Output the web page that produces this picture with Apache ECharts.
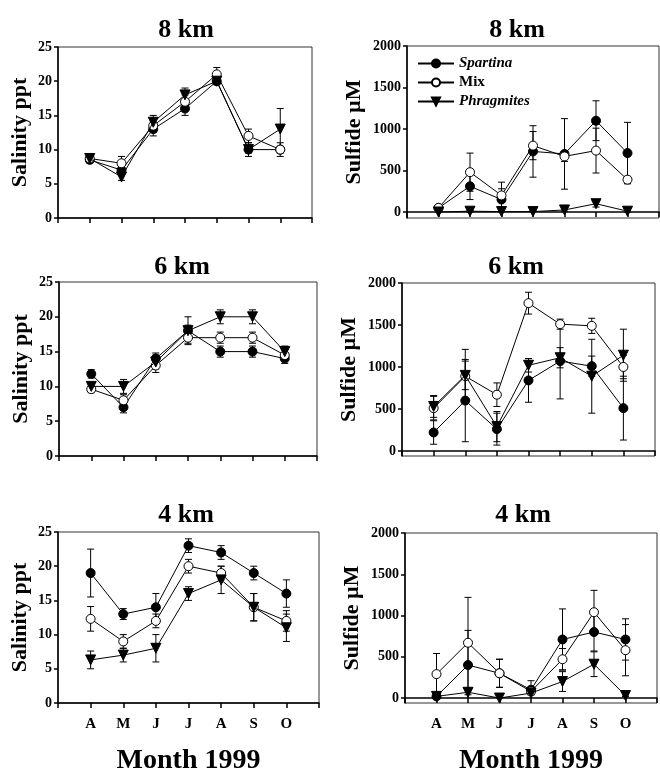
<!DOCTYPE html>
<html>
<head>
<meta charset="utf-8">
<script src="https://cdn.jsdelivr.net/npm/echarts@6/dist/echarts.min.js"></script>
<style>
  html, body { margin: 0; padding: 0; background: #fff; }
  #chart { width: 660px; height: 776px; }
</style>
</head>
<body>
<div id="chart"></div>
<script>
// month labels, x positions 1..7
var months = ["A", "M", "J", "J", "A", "S", "O"];
var speciesNames = ["Spartina", "Mix", "Phragmites"];

// 8 km salinity (ppt), mean and error
var sal8Sp = [8.5, 7, 13, 16, 20, 10, 10];
var sal8Mx = [8.7, 8, 13.5, 17, 21, 12, 10];
var sal8Ph = [8.7, 6, 14, 18, 20, 10, 13];
var sal8SpErr = [0.5, 0.5, 1, 1, 0.5, 1, 0.5];
var sal8MxErr = [0.4, 1, 1, 1, 1, 1, 1];
var sal8PhErr = [0.4, 0.5, 1, 1, 0.5, 0.5, 3];

// 8 km sulfide (uM)
var sul8Sp = [50, 310, 150, 730, 700, 1100, 710];
var sul8Mx = [50, 480, 200, 800, 670, 740, 390];
var sul8Ph = [0, 10, 5, 5, 25, 100, 10];
var sul8SpErr = [20, 160, 130, 310, 425, 240, 370];
var sul8MxErr = [20, 230, 160, 170, 60, 270, 40];
var sul8PhErr = [5, 10, 10, 10, 15, 40, 10];

// 6 km salinity
var sal6Sp = [11.8, 7, 14, 18, 15, 15, 14];
var sal6Mx = [9.6, 8, 13, 17, 17, 17, 14.5];
var sal6Ph = [10, 10, 13.5, 18, 20, 20, 15];
var sal6SpErr = [0.6, 0.8, 0.8, 0.8, 0.8, 0.8, 0.7];
var sal6MxErr = [0.5, 0.8, 1, 0.8, 0.8, 0.8, 0.8];
var sal6PhErr = [0.5, 1, 1, 2, 1, 1, 0.8];

// 6 km sulfide
var sul6Sp = [220, 600, 260, 840, 1070, 1010, 510];
var sul6Mx = [510, 890, 670, 1760, 1510, 1490, 1000];
var sul6Ph = [530, 900, 290, 1020, 1110, 890, 1140];
var sul6SpErr = [140, 490, 190, 260, 450, 120, 380];
var sul6MxErr = [140, 320, 140, 130, 60, 90, 140];
var sul6PhErr = [130, 170, 180, 80, 120, 440, 310];

// 4 km salinity
var sal4Sp = [19, 13, 14, 23, 22, 19, 16];
var sal4Mx = [12.3, 9, 12, 20, 19, 14, 12];
var sal4Ph = [6.3, 7, 8, 16, 18, 14, 11];
var sal4SpErr = [3.5, 0.8, 2, 1, 1, 1, 2];
var sal4MxErr = [1.8, 1, 1, 1, 1, 2, 1.5];
var sal4PhErr = [1.3, 1, 2, 1, 2, 2, 2];

// 4 km sulfide
var sul4Sp = [20, 400, 300, 100, 710, 800, 710];
var sul4Mx = [290, 670, 300, 80, 470, 1040, 580];
var sul4Ph = [20, 70, 0, 60, 200, 410, 30];
var sul4SpErr = [20, 420, 170, 110, 370, 230, 250];
var sul4MxErr = [250, 550, 170, 40, 130, 265, 310];
var sul4PhErr = [10, 30, 5, 20, 120, 150, 10];

var salTicks = [0, 5, 10, 15, 20, 25];
var sulTicks = [0, 500, 1000, 1500, 2000];

var FONT = "Liberation Serif";

var panels = [
  { title: "8 km", tx: 181, ty: 12, grid: { left: 58, top: 47, width: 254, height: 171 }, kind: "sal", yMin: 0, bottom: false,
    mean: [sal8Sp, sal8Mx, sal8Ph], err: [sal8SpErr, sal8MxErr, sal8PhErr] },
  { title: "8 km", tx: 512, ty: 12, grid: { left: 407, top: 46, width: 252, height: 172 }, kind: "sul", yMin: -72, bottom: false,
    mean: [sul8Sp, sul8Mx, sul8Ph], err: [sul8SpErr, sul8MxErr, sul8PhErr] },
  { title: "6 km", tx: 177, ty: 249, grid: { left: 59, top: 282, width: 258, height: 174 }, kind: "sal", yMin: 0, bottom: false,
    mean: [sal6Sp, sal6Mx, sal6Ph], err: [sal6SpErr, sal6MxErr, sal6PhErr] },
  { title: "6 km", tx: 511, ty: 249, grid: { left: 402, top: 283, width: 253, height: 173 }, kind: "sul", yMin: -60, bottom: false,
    mean: [sul6Sp, sul6Mx, sul6Ph], err: [sul6SpErr, sul6MxErr, sul6PhErr] },
  { title: "4 km", tx: 181, ty: 497, grid: { left: 58, top: 532, width: 261, height: 176 }, kind: "sal", yMin: 0, bottom: true,
    mean: [sal4Sp, sal4Mx, sal4Ph], err: [sal4SpErr, sal4MxErr, sal4PhErr] },
  { title: "4 km", tx: 518, ty: 497, grid: { left: 405, top: 533, width: 254, height: 175 }, kind: "sul", yMin: -60, bottom: true,
    mean: [sul4Sp, sul4Mx, sul4Ph], err: [sul4SpErr, sul4MxErr, sul4PhErr] }
];

var symbols = ["circle", "circle", "triangle"];
var fills = ["#000", "#fff", "#000"];
var sizes = [9, 9, 10];

var chart = echarts.init(document.getElementById("chart"));

var titles = [], grids = [], xAxes = [], yAxes = [], series = [];

panels.forEach(function (p, gi) {
  titles.push({
    text: p.title, left: p.tx, top: p.ty, textAlign: "center",
    textStyle: { fontFamily: FONT, fontWeight: "bold", fontSize: 26, color: "#000" }
  });
  grids.push({
    left: p.grid.left, top: p.grid.top, width: p.grid.width, height: p.grid.height,
    show: true, borderColor: "#333", borderWidth: 1, backgroundColor: "transparent"
  });
  xAxes.push({
    gridIndex: gi, type: "value", min: 0, max: 8, interval: 1,
    axisLine: { lineStyle: { color: "#000", width: 1.5 } },
    axisTick: { show: true, length: 5, lineStyle: { color: "#000", width: 1.5 } },
    splitLine: { show: false },
    axisLabel: {
      show: p.bottom, margin: 14, fontFamily: FONT, fontWeight: "bold", fontSize: 15, color: "#000",
      formatter: function (v) { return months[v - 1] || ""; }
    },
    name: p.bottom ? "Month 1999" : "", nameLocation: "middle", nameGap: 44,
    nameTextStyle: { fontFamily: FONT, fontWeight: "bold", fontSize: 28, color: "#000" }
  });
  var isSal = p.kind === "sal";
  var ticks = isSal ? salTicks : sulTicks;
  yAxes.push({
    gridIndex: gi, type: "value", min: p.yMin, max: ticks[ticks.length - 1],
    axisLine: { show: true, lineStyle: { color: "#000", width: 1.5 } },
    axisTick: { show: true, length: 4, customValues: ticks, lineStyle: { color: "#000", width: 1.5 } },
    splitLine: { show: false },
    axisLabel: {
      customValues: ticks, margin: 6, fontFamily: FONT, fontWeight: "bold", fontSize: 14, color: "#000",
      formatter: function (v) { return String(v); }
    },
    name: isSal ? "Salinity ppt" : "Sulfide \u00b5M", nameLocation: "middle", nameGap: isSal ? 27 : 42,
    nameTextStyle: { fontFamily: FONT, fontWeight: "bold", fontSize: 22, color: "#000" }
  });

  // error bars first so markers sit on top
  p.mean.forEach(function (m, si) {
    var e = p.err[si];
    series.push({
      type: "custom", xAxisIndex: gi, yAxisIndex: gi, silent: true, z: 1,
      data: m.map(function (v, k) { return [k + 1, Math.max(0, v - e[k]), v + e[k], v - e[k] < 0 ? 0 : 1]; }),
      renderItem: function (params, api) {
        var lo = api.coord([api.value(0), api.value(1)]);
        var hi = api.coord([api.value(0), api.value(2)]);
        var w = 3.5;
        var st = { stroke: "#000", lineWidth: 1 };
        var kids = [
          { type: "line", shape: { x1: lo[0], y1: lo[1], x2: hi[0], y2: hi[1] }, style: st },
          { type: "line", shape: { x1: hi[0] - w, y1: hi[1], x2: hi[0] + w, y2: hi[1] }, style: st }
        ];
        if (api.value(3)) {
          kids.push({ type: "line", shape: { x1: lo[0] - w, y1: lo[1], x2: lo[0] + w, y2: lo[1] }, style: st });
        }
        return { type: "group", children: kids };
      }
    });
  });

  p.mean.forEach(function (m, si) {
    series.push({
      name: speciesNames[si], type: "line", xAxisIndex: gi, yAxisIndex: gi, z: 3 + si,
      data: m.map(function (v, k) { return [k + 1, v]; }),
      symbol: symbols[si], symbolSize: sizes[si], symbolRotate: si === 2 ? 180 : 0,
      showAllSymbol: true,
      lineStyle: { color: "#000", width: 1 },
      itemStyle: { color: fills[si], borderColor: "#000", borderWidth: 1, opacity: 1 }
    });
  });
});

var option = {
  animation: false,
  backgroundColor: "#fff",
  title: titles,
  grid: grids,
  xAxis: xAxes,
  yAxis: yAxes,
  legend: {
    data: speciesNames, orient: "vertical", left: 412, top: 51,
    itemWidth: 36, itemHeight: 10, itemGap: 4,
    symbolRotate: "inherit",
    formatter: function (n) { return n === "Mix" ? "{n|Mix}" : "{i|" + n + "}"; },
    textStyle: {
      rich: {
        n: { fontFamily: FONT, fontWeight: "bold", fontSize: 15, color: "#000" },
        i: { fontFamily: FONT, fontWeight: "bold", fontStyle: "italic", fontSize: 15, color: "#000" }
      }
    }
  },
  series: series
};

chart.setOption(option);
</script>
</body>
</html>
